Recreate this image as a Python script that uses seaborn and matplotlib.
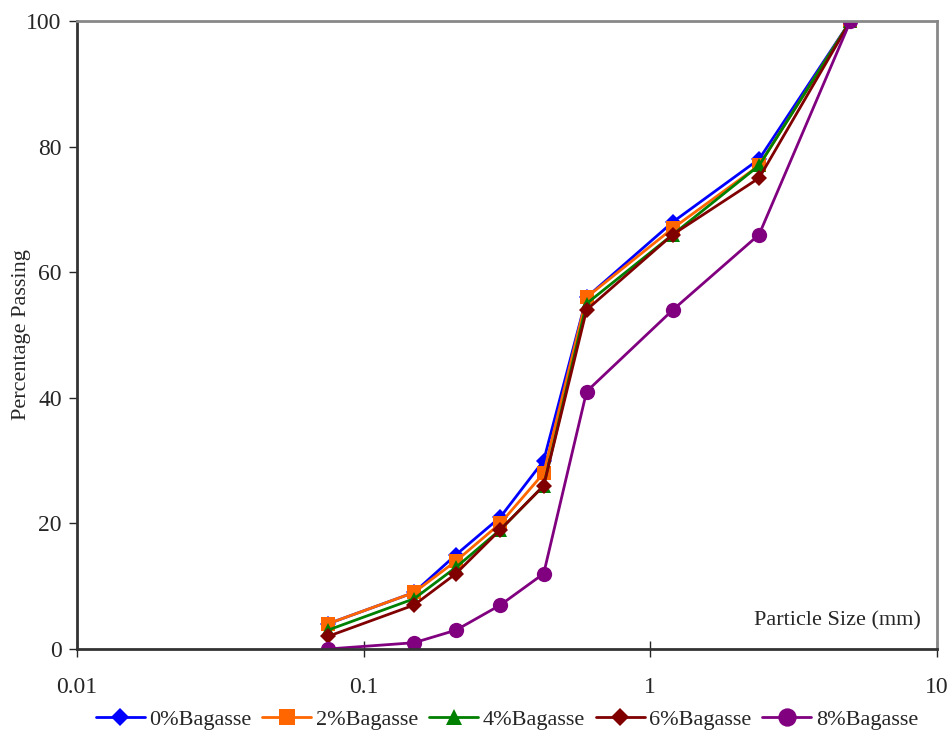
import pandas as pd
import numpy as np
import matplotlib.pyplot as plt
import seaborn as sns

sns.set_style("white")
plt.rcParams['font.family'] = ['Liberation Serif', 'DejaVu Serif']

# sieve sizes (mm) and % passing for each mix
sizes = [0.075, 0.15, 0.21, 0.3, 0.425, 0.6, 1.2, 2.4, 5.0]
b0 = [4, 9, 15, 21, 30, 56, 68, 78, 100]
b2 = [4, 9, 14, 20, 28, 56, 67, 77, 100]
b4 = [3, 8, 13, 19, 26, 55, 66, 77, 100]
b6 = [2, 7, 12, 19, 26, 54, 66, 75, 100]
b8 = [0, 1, 3, 7, 12, 41, 54, 66, 100]
names = ['0%Bagasse', '2%Bagasse', '4%Bagasse', '6%Bagasse', '8%Bagasse']

rows = []
for n, v in zip(names, [b0, b2, b4, b6, b8]):
    for s, p in zip(sizes, v):
        rows.append({'size': s, 'passing': p, 'mix': n})
df = pd.DataFrame(rows)

colors = ['#0000FF', '#FF6600', '#008000', '#800000', '#800080']
marks = ['D', 's', '^', 'D', 'o']
msz = [8, 10, 10, 8, 11]

fig = plt.figure(figsize=(9.51, 7.34), dpi=100)
ax = fig.add_axes([0.081, 0.1158, 0.904, 0.8556])

for n, c, m, ms in zip(names, colors, marks, msz):
    sns.lineplot(data=df[df.mix == n], x='size', y='passing', color=c, marker=m,
                 markersize=ms, markeredgewidth=0, linewidth=2, label=n, ax=ax,
                 estimator=None, sort=False)

ax.set_xscale('log')
ax.set_xlim(0.01, 10)
ax.set_ylim(0, 100)
ax.set_xticks([0.01, 0.1, 1, 10])
ax.set_xticklabels(['0.01', '0.1', '1', '10'])
ax.minorticks_off()
ax.set_yticks([0, 20, 40, 60, 80, 100])
ax.tick_params(axis='x', direction='inout', length=12, width=1, labelsize=17, pad=14, bottom=True)
ax.tick_params(axis='y', direction='out', length=6, width=1, labelsize=17, pad=5, left=True)

for s in ['left', 'bottom']:
    ax.spines[s].set_color('#333333')
    ax.spines[s].set_linewidth(2)
for s in ['top', 'right']:
    ax.spines[s].set_color('#888888')
    ax.spines[s].set_linewidth(2)

ax.set_xlabel('')
ax.set_ylabel('Percentage Passing', fontsize=16, labelpad=-3)
ax.text(0.981, 0.045, 'Particle Size (mm)', transform=ax.transAxes,
        ha='right', va='center', fontsize=16)

ax.legend(loc='center', bbox_to_anchor=(0.5, -0.113), ncol=5, frameon=False,
          fontsize=16, handlelength=2.2, handletextpad=0.2, columnspacing=0.5,
          markerscale=1.2)

fig.savefig('out.png', dpi=100)
